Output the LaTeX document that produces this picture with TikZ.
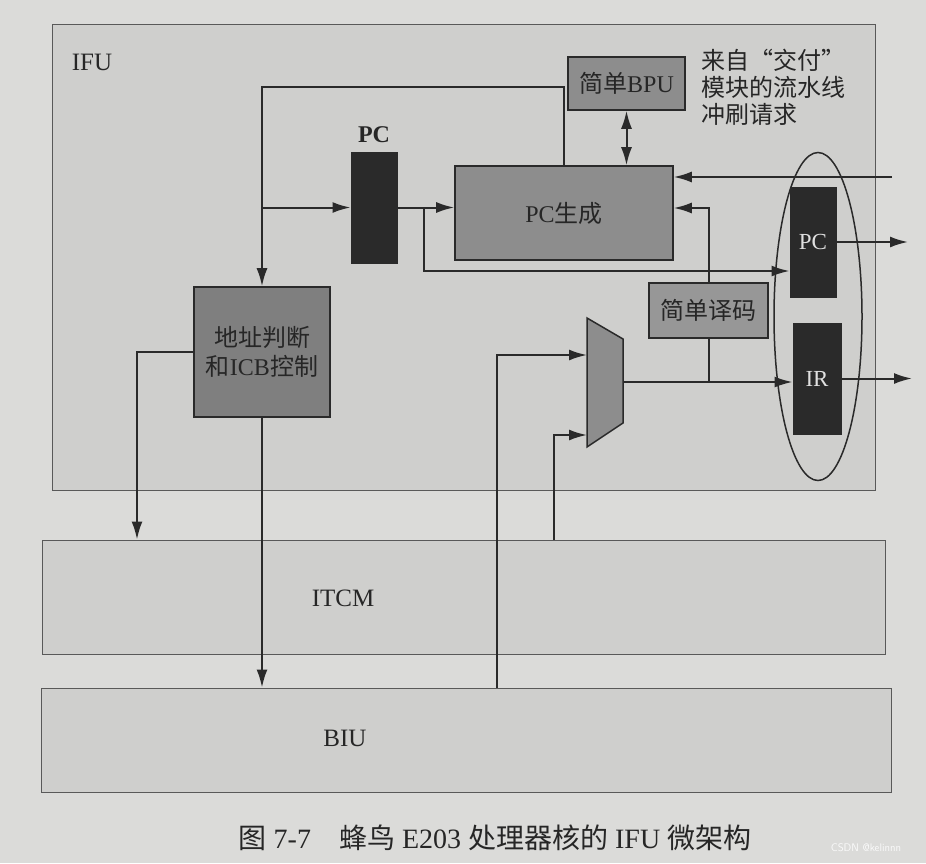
\documentclass[tikz,border=0pt]{standalone}
\usepackage{fontspec}
\setmainfont{Liberation Serif}
\newfontfamily\cjk{Noto Sans CJK SC}
\usetikzlibrary{arrows.meta, positioning, calc, shapes.geometric}

\newcommand{\zh}[1]{{\cjk #1}}

\definecolor{pagegray}{HTML}{DBDBD9}
\definecolor{unitgray}{HTML}{CFCFCD}
\definecolor{blockgray}{HTML}{8D8D8D}
\definecolor{addrgray}{HTML}{7F7F7F}
\definecolor{decodegray}{HTML}{979797}
\definecolor{reggray}{HTML}{2A2A2A}
\definecolor{inkgray}{HTML}{2A2A2A}

\tikzset{
  wire/.style={draw=inkgray, line width=2pt},
  arr/.style={wire, -{Latex[length=18pt, width=11pt]}},
  dualarr/.style={wire, {Latex[length=18pt, width=11pt]}-{Latex[length=18pt, width=11pt]}},
  unitbox/.style={draw=black!65, line width=1pt, fill=unitgray},
  block/.style={draw=inkgray, line width=1.6pt, fill=blockgray, inner sep=0pt, align=center, text=black!85, font=\fontsize{24}{29}\selectfont},
  regbox/.style={draw=inkgray, line width=1pt, fill=reggray, inner sep=0pt, text=white!88!black, font=\fontsize{23}{27}\selectfont},
  lbl/.style={inner sep=0pt, text=black!85, font=\fontsize{24}{28}\selectfont},
}

\begin{document}
\begin{tikzpicture}[x=1pt, y=-1pt]
  % Page
  \fill[pagegray] (0,0) rectangle (926,863);
  \useasboundingbox (0,0) rectangle (926,863);

  % Units
  \node[unitbox, minimum width=823pt, minimum height=466pt] (ifu) at (463.5,257) {};
  \node[lbl, font=\fontsize{25}{28}\selectfont] (ifulbl) at (92,62) {IFU};
  \node[unitbox, minimum width=843pt, minimum height=114pt] (itcm) at (463.5,597) {};
  \node[lbl, font=\fontsize{25}{28}\selectfont] (itcmlbl) at (343,598) {ITCM};
  \node[unitbox, minimum width=850pt, minimum height=104pt] (biu) at (466,740) {};
  \node[lbl, font=\fontsize{25}{28}\selectfont] (biulbl) at (345,738) {BIU};

  % Blocks
  \node[block, minimum width=117pt, minimum height=53pt] (bpu) at (626.5,83.5) {\zh{简单}BPU};
  \node[regbox, minimum width=46pt, minimum height=111pt] (pcreg) at (374,207.5) {};
  \node[lbl, font=\bfseries\fontsize{24}{28}\selectfont, above=9pt of pcreg] (pclbl) {PC};
  \node[block, minimum width=218pt, minimum height=94pt] (pcgen) at (564,213) {PC\zh{生成}};
  \node[block, fill=addrgray, minimum width=136pt, minimum height=130pt] (addr) at (262,352) {\zh{地址判断}\\\zh{和}ICB\zh{控制}};
  \node[block, fill=decodegray, minimum width=119pt, minimum height=55pt] (decode) at (708.5,310.5) {\zh{简单译码}};
  \node[regbox, minimum width=46pt, minimum height=110pt] (outpc) at (813,242) {PC};
  \node[regbox, minimum width=48pt, minimum height=111pt] (ir) at (817,378.5) {IR};
  \node[draw=inkgray, line width=1.5pt, ellipse, minimum width=88pt, minimum height=328pt] (retire) at (818,316.5) {};

  % Mux
  \coordinate (muxin1) at (587,355);
  \coordinate (muxin2) at (587,435);
  \coordinate (muxout) at (623,382);
  \draw[wire, line width=1.5pt, fill=blockgray] (587,318) -- (623,339) -- (623,423) -- (587,447) -- cycle;

  % PC loop
  \coordinate (looptop) at (262,87);
  \coordinate (fork1) at (addr.north |- pcreg.west);
  \coordinate (fork2) at ($(pcreg.east)+(26,0)$);
  \draw[arr] (pcgen.north) |- (looptop) -- (addr.north);
  \draw[arr] (fork1) -- (pcreg.west);
  \draw[arr] (pcreg.east) -- (pcreg.east -| pcgen.west);
  \draw[arr] (fork2) |- ($(outpc.west)+(0,29)$);
  \draw[dualarr] (bpu.south) -- (bpu.south |- pcgen.north);

  % Flush and decode
  \coordinate (flushin) at (892,177);
  \draw[arr] (flushin) -- (flushin -| pcgen.east);
  \draw[arr] (decode.north) |- ($(pcgen.east)+(0,-5)$);
  \draw[arr] (muxout) -- (muxout -| ir.west);
  \draw[wire] (decode.south) -- (decode.south |- muxout);

  % Outputs
  \coordinate (pcoutend) at (908,242);
  \coordinate (iroutend) at (912,378.5);
  \draw[arr] (outpc.east) -- (outpc.east -| pcoutend);
  \draw[arr] (ir.east) -- (ir.east -| iroutend);

  % Memory side
  \draw[arr] (addr.west) -| (137,0 |- itcm.north);
  \draw[arr] (addr.south) -- (addr.south |- biu.north);
  \draw[arr] (497,0 |- biu.north) |- (muxin1);
  \draw[arr] (554,0 |- itcm.north) |- (muxin2);

  % Texts
  \node[lbl, align=left, anchor=north west, font=\cjk\fontsize{24}{27}\selectfont] (flushtxt) at (701,49) {来自“交付”\\模块的流水线\\冲刷请求};
  \node[lbl, font=\fontsize{28}{32}\selectfont] (caption) at (495,838) {\zh{图} 7-7\quad\zh{蜂鸟} E203 \zh{处理器核的} IFU \zh{微架构}};
  \node[inner sep=0pt, text=white!96!gray, font=\sffamily\fontsize{11}{12}\selectfont] (mark) at (866,848) {CSDN @kelinnn};
\end{tikzpicture}
\end{document}
